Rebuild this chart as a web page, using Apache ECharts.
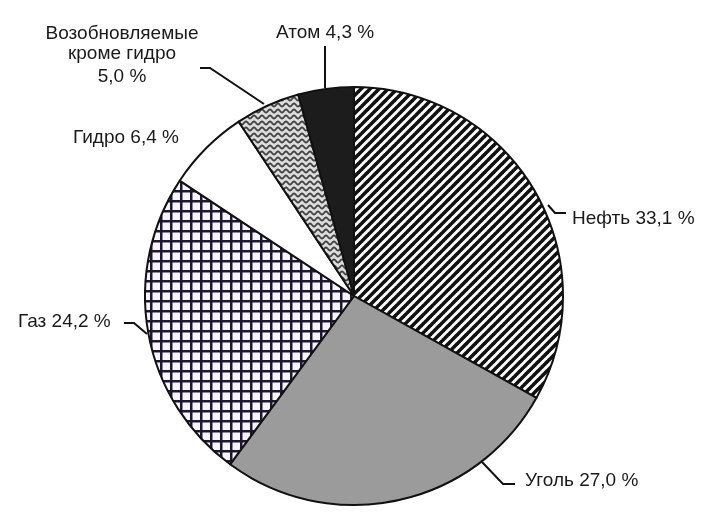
<!DOCTYPE html>
<html>
<head>
<meta charset="utf-8">
<script src="https://cdn.jsdelivr.net/npm/echarts@6/dist/echarts.min.js"></script>
<style>
  html, body { margin: 0; padding: 0; background: #fff; }
  #chart { width: 703px; height: 523px; }
</style>
</head>
<body>
<div id="chart"></div>
<script>
// sources of energy, share in %
const names = ['Нефть', 'Уголь', 'Газ', 'Гидро', 'Возобновляемые\nкроме гидро', 'Атом']
const values = [33.1, 27.0, 24.2, 6.4, 5.0, 4.3]

// fill patterns
const makeTile = (w, h, draw) => {
  const c = document.createElement('canvas')
  c.width = w
  c.height = h
  draw(c.getContext('2d'), w, h)
  return { image: c, repeat: 'repeat' }
}

const stripes = makeTile(9, 9, (ctx, w, h) => {
  ctx.fillStyle = '#ffffff'
  ctx.fillRect(0, 0, w, h)
  ctx.strokeStyle = '#111111'
  ctx.lineWidth = 3.6
  for (let k = -1; k <= 1; k++) {
    ctx.beginPath()
    ctx.moveTo(k * w - 1, h + 1)
    ctx.lineTo(k * w + w + 1, -1)
    ctx.stroke()
  }
})

const grid = makeTile(10, 10, (ctx, w, h) => {
  ctx.fillStyle = '#f6f4fa'
  ctx.fillRect(0, 0, w, h)
  ctx.fillStyle = '#1d1830'
  ctx.fillRect(0, 0, 2.5, h)
  ctx.fillRect(0, 0, w, 2.5)
})

const waves = makeTile(8, 6, (ctx, w, h) => {
  ctx.fillStyle = '#dcdcdc'
  ctx.fillRect(0, 0, w, h)
  ctx.strokeStyle = '#404040'
  ctx.lineWidth = 1.8
  ctx.beginPath()
  for (let x = -1; x <= w + 1; x += 0.5) {
    const y = 3 + 1.5 * Math.sin((2 * Math.PI * x) / w)
    if (x === -1) ctx.moveTo(x, y)
    else ctx.lineTo(x, y)
  }
  ctx.stroke()
})

const fills = [stripes, '#9b9b9b', grid, '#ffffff', waves, '#1c1c1c']

const fmt = v => v.toFixed(1).replace('.', ',') + ' %'

// label placement: [x, y, align, leader line points]
const labelSpots = [
  [572, 219, 'left', [[548, 205], [555, 213], [566, 213]]],
  [525, 481, 'left', [[482, 462], [503, 484], [515, 484]]],
  [18, 322, 'left', [[147, 334], [134, 323], [124, 323]]],
  [73, 138, 'left', null],
  [122, 57, 'center', [[264, 104], [210, 68], [200, 68]]],
  [325, 33, 'center', [[325, 88], [325, 46]]]
]

const chart = echarts.init(document.getElementById('chart'))

const font = 'Liberation Sans, Arial, sans-serif'

const seriesData = names.map((n, i) => ({
  name: n,
  value: values[i],
  itemStyle: { color: fills[i] },
  label: i === 4
    ? { formatter: '{a|Возобновляемые}\n{a|кроме гидро}\n{b|' + fmt(values[i]) + '}' }
    : { formatter: n + ' ' + fmt(values[i]) },
  labelLine: { show: labelSpots[i][3] !== null }
}))

chart.setOption({
  animation: false,
  series: [{
    type: 'pie',
    center: [354, 296],
    radius: [0, 209],
    startAngle: 90,
    clockwise: true,
    data: seriesData,
    itemStyle: { borderColor: '#111111', borderWidth: 2 },
    label: {
      show: true,
      position: 'outside',
      overflow: 'none',
      fontFamily: font,
      fontSize: 19,
      color: '#1a1a1a',
      rich: {
        a: { fontFamily: font, fontSize: 19, color: '#1a1a1a', lineHeight: 20, align: 'center' },
        b: { fontFamily: font, fontSize: 19, color: '#1a1a1a', lineHeight: 26, align: 'center' }
      }
    },
    labelLine: { lineStyle: { color: '#111111', width: 2 } },
    emphasis: { disabled: true },
    labelLayout: params => {
      const s = labelSpots[params.dataIndex]
      const out = { x: s[0], y: s[1], align: s[2], verticalAlign: 'middle', moveOverlap: false, width: 300 }
      if (s[3]) out.labelLinePoints = s[3]
      return out
    }
  }]
})
</script>
</body>
</html>
